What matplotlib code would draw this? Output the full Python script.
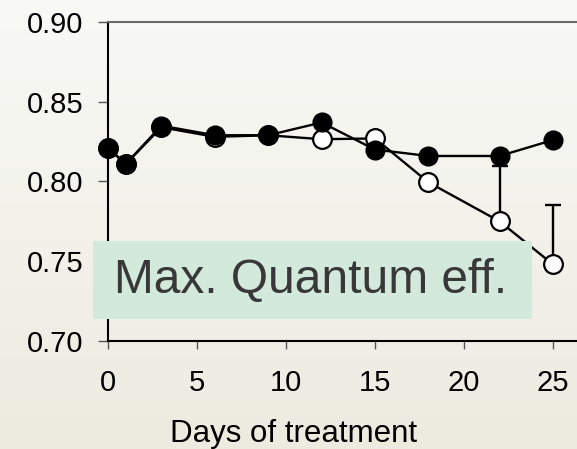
import numpy as np
import matplotlib
matplotlib.use('Agg')
import matplotlib.pyplot as plt
from matplotlib.patches import Rectangle

plt.rcParams['font.family'] = ['Liberation Sans', 'DejaVu Sans']

# days of treatment and max. quantum efficiency (Fv/Fm)
days = [0, 1, 3, 6, 9, 12, 15, 18, 22, 25]
control = [0.821, 0.811, 0.835, 0.829, 0.829, 0.837, 0.820, 0.816, 0.816, 0.826]
treated = [0.821, 0.811, 0.834, 0.828, 0.829, 0.8265, 0.827, 0.7995, 0.775, 0.748]
treated_err = [0, 0, 0, 0, 0, 0, 0, 0, 0.035, 0.037]

y_ticks = [0.70, 0.75, 0.80, 0.85, 0.90]
x_ticks = [0, 5, 10, 15, 20, 25]

W, H = 577, 449
fig = plt.figure(figsize=(W / 100, H / 100), dpi=100)

# soft vertical gradient behind everything
bg = fig.add_axes([0, 0, 1, 1], zorder=-10)
top = np.array([0.976, 0.976, 0.965])
bottom = np.array([0.925, 0.922, 0.878])
t = np.linspace(0, 1, 256)[:, None, None]
grad = top * (1 - t) + bottom * t
bg.imshow(np.repeat(grad, 2, axis=1), aspect='auto', extent=[0, 1, 0, 1])
bg.axis('off')

left, right = 108 / W, 1.0
ax_bottom, ax_top = (H - 341) / H, (H - 22) / H
ax = fig.add_axes([left, ax_bottom, right - left, ax_top - ax_bottom])
ax.set_facecolor('none')

ax.set_xlim(0, (W - 108) / 17.8)
ax.set_ylim(0.70, 0.90)

lw = 1.7
ax.errorbar(days, treated, yerr=[np.zeros(len(days)), treated_err], fmt='none',
            ecolor='black', elinewidth=lw, capsize=6, capthick=lw, zorder=2)
ax.plot(days, treated, '-o', color='black', lw=lw, ms=13.5, mfc='white', mec='black',
        mew=1.6, zorder=3, clip_on=False)
ax.plot(days, control, '-o', color='black', lw=lw, ms=13.5, mfc='black', mec='black',
        zorder=4, clip_on=False)

ax.set_yticks(y_ticks)
ax.set_yticklabels(['%.2f' % v for v in y_ticks])
ax.set_xticks(x_ticks)

ax.spines['right'].set_visible(False)
ax.spines['left'].set_linewidth(1.5)
ax.spines['bottom'].set_linewidth(1.5)
ax.spines['top'].set_linewidth(1.5)
ax.spines['top'].set_color('#6a6a6a')
ax.tick_params(axis='y', direction='out', length=7, width=1, color='#555555',
               labelsize=21, pad=11)
ax.tick_params(axis='x', direction='out', length=6, width=1, color='#555555',
               labelsize=21, pad=14)

fig.text(293.5 / W, (H - 441.7) / H, 'Days of treatment', ha='center', va='baseline',
         fontsize=22.5)

# parameter label box
box = Rectangle((93 / W, (H - 319) / H), (532 - 93) / W, (319 - 241) / H,
                transform=fig.transFigure, facecolor='#d3e9dc', edgecolor='none',
                zorder=10)
fig.add_artist(box)
fig.text(114 / W, (H - 280) / H, 'Max. Quantum eff.', ha='left', va='center',
         fontsize=34.5, color='#383838', zorder=11)

fig.savefig('out.png', dpi=100)
